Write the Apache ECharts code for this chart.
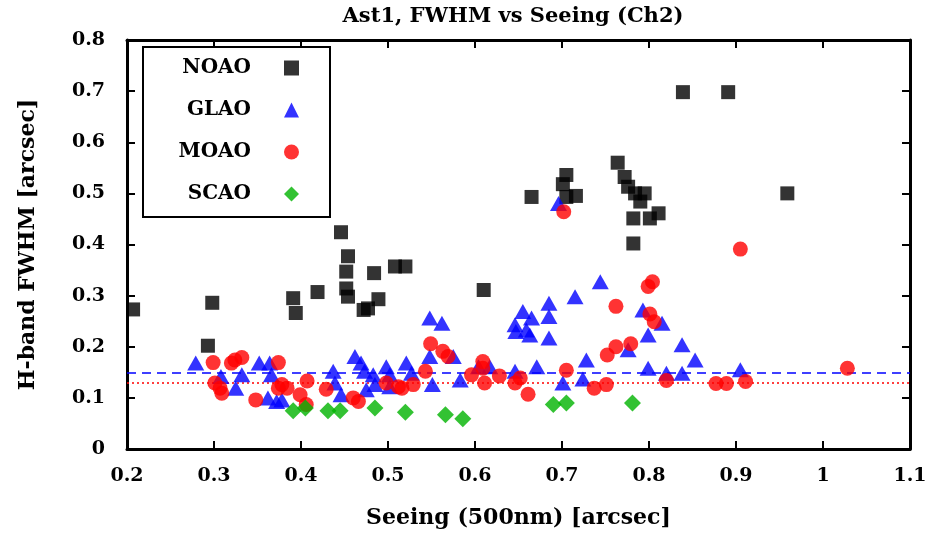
<!DOCTYPE html>
<html><head><meta charset="utf-8">
<script src="https://cdn.jsdelivr.net/npm/echarts@6/dist/echarts.min.js"></script>
<style>html,body{margin:0;padding:0;background:#fff}#c{width:948px;height:535px}</style>
</head><body><div id="c"></div>
<script>
const seriesNames = ['NOAO', 'GLAO', 'MOAO', 'SCAO'];
const noao = [[0.207,0.273],[0.298,0.286],[0.293,0.202],[0.391,0.295],[0.394,0.266],[0.419,0.307],[0.446,0.424],[0.454,0.377],[0.452,0.347],[0.452,0.314],[0.454,0.298],[0.484,0.344],[0.472,0.272],[0.477,0.275],[0.489,0.293],[0.508,0.357],[0.520,0.357],[0.610,0.311],[0.665,0.493],[0.701,0.518],[0.705,0.536],[0.705,0.493],[0.716,0.495],[0.764,0.560],[0.772,0.532],[0.776,0.513],[0.784,0.500],[0.795,0.500],[0.790,0.484],[0.782,0.451],[0.801,0.451],[0.811,0.461],[0.782,0.402],[0.839,0.698],[0.891,0.698],[0.959,0.500]];
const glao = [[0.279,0.168],[0.308,0.142],[0.325,0.119],[0.332,0.145],[0.352,0.168],[0.364,0.168],[0.366,0.145],[0.362,0.100],[0.372,0.093],[0.378,0.096],[0.437,0.152],[0.439,0.129],[0.446,0.106],[0.462,0.181],[0.469,0.168],[0.473,0.152],[0.483,0.145],[0.485,0.126],[0.475,0.116],[0.498,0.161],[0.502,0.122],[0.502,0.145],[0.521,0.168],[0.527,0.148],[0.548,0.256],[0.562,0.246],[0.548,0.181],[0.575,0.181],[0.551,0.126],[0.583,0.135],[0.604,0.161],[0.617,0.161],[0.646,0.243],[0.647,0.230],[0.655,0.269],[0.665,0.256],[0.659,0.233],[0.663,0.223],[0.685,0.285],[0.685,0.259],[0.685,0.217],[0.646,0.152],[0.671,0.161],[0.701,0.129],[0.715,0.298],[0.728,0.174],[0.724,0.137],[0.744,0.327],[0.696,0.480],[0.776,0.194],[0.793,0.272],[0.815,0.246],[0.799,0.223],[0.799,0.158],[0.820,0.148],[0.838,0.204],[0.853,0.174],[0.838,0.148],[0.905,0.155]];
const moao = [[0.299,0.169],[0.301,0.129],[0.307,0.119],[0.309,0.109],[0.320,0.168],[0.324,0.174],[0.332,0.179],[0.348,0.096],[0.374,0.169],[0.378,0.126],[0.374,0.119],[0.384,0.119],[0.399,0.106],[0.406,0.087],[0.407,0.133],[0.429,0.117],[0.460,0.100],[0.466,0.093],[0.498,0.129],[0.512,0.122],[0.516,0.119],[0.529,0.126],[0.543,0.152],[0.549,0.206],[0.563,0.191],[0.569,0.181],[0.596,0.145],[0.609,0.171],[0.609,0.158],[0.611,0.129],[0.628,0.143],[0.646,0.129],[0.652,0.139],[0.661,0.107],[0.705,0.154],[0.737,0.119],[0.751,0.126],[0.752,0.184],[0.762,0.200],[0.779,0.206],[0.762,0.279],[0.702,0.464],[0.799,0.318],[0.804,0.327],[0.801,0.264],[0.806,0.249],[0.905,0.391],[0.820,0.134],[0.877,0.128],[0.889,0.128],[0.911,0.132],[1.028,0.158]];
const scao = [[0.391,0.075],[0.405,0.080],[0.431,0.075],[0.445,0.075],[0.485,0.080],[0.520,0.072],[0.566,0.067],[0.586,0.059],[0.690,0.087],[0.705,0.090],[0.781,0.090]];
const glaoMean = 0.155;
const moaoMean = 0.133;

const FONT = 'DejaVu Serif';
const chart = echarts.init(document.getElementById('c'), null, {renderer: 'canvas'});
const axisBase = {
  type: 'value',
  axisLine: {show: true, onZero: false, lineStyle: {color: '#000', width: 3}},
  axisTick: {show: true, inside: true, length: 8, lineStyle: {color: '#000', width: 2}},
  splitLine: {show: false},
};
chart.setOption({
  animation: false,
  backgroundColor: '#fff',
  title: {
    text: 'Ast1, FWHM vs Seeing (Ch2)',
    left: 508, top: 1, textAlign: 'center',
    textStyle: {fontFamily: FONT, fontWeight: 'bold', fontSize: 21, color: '#000'}
  },
  grid: {left: 127, right: 38, top: 40, bottom: 86, containLabel: false},
  legend: {
    orient: 'vertical', left: 143, top: 47, align: 'right',
    backgroundColor: '#fff', borderColor: '#000', borderWidth: 2, borderRadius: 0,
    padding: [11, 31, 13, 8], itemGap: 22, itemWidth: 15, itemHeight: 15,
    data: [
      {name: 'NOAO', icon: 'rect'},
      {name: 'GLAO', icon: 'triangle'},
      {name: 'MOAO', icon: 'circle'},
      {name: 'SCAO', icon: 'diamond'}
    ],
    formatter: n => '{a|' + n + '}',
    textStyle: {
      color: '#000',
      rich: {a: {fontFamily: FONT, fontWeight: 'bold', fontSize: 20, color: '#000', width: 100, align: 'right', padding: [0, 28, 0, 0], lineHeight: 20}}
    }
  },
  xAxis: [
    Object.assign({}, axisBase, {
      min: 0.2, max: 1.1, interval: 0.1, position: 'bottom',
      name: 'Seeing (500nm) [arcsec]', nameLocation: 'middle', nameGap: 58,
      nameTextStyle: {fontFamily: FONT, fontWeight: 'bold', fontSize: 22, color: '#000'},
      axisLabel: {fontFamily: FONT, fontWeight: 'bold', fontSize: 19, color: '#000', margin: 18, showMinLabel: true, showMaxLabel: true}
    }),
    Object.assign({}, axisBase, {
      min: 0.2, max: 1.1, interval: 0.1, position: 'top', axisLabel: {show: false}
    })
  ],
  yAxis: [
    Object.assign({}, axisBase, {
      min: 0, max: 0.8, interval: 0.1, position: 'left',
      name: 'H-band FWHM [arcsec]', nameLocation: 'middle', nameGap: 88, nameRotate: 90,
      nameTextStyle: {fontFamily: FONT, fontWeight: 'bold', fontSize: 22, color: '#000'},
      axisLabel: {fontFamily: FONT, fontWeight: 'bold', fontSize: 19, color: '#000', margin: 22, showMinLabel: true, showMaxLabel: true}
    }),
    Object.assign({}, axisBase, {
      min: 0, max: 0.8, interval: 0.1, position: 'right', axisLabel: {show: false}
    })
  ],
  series: [
    {
      name: 'NOAO', type: 'scatter', symbol: 'rect', symbolSize: 14, data: noao,
      itemStyle: {color: '#000000'}, z: 3,
      markLine: {
        silent: true, symbol: ['none', 'none'], label: {show: false}, z: 1,
        data: [
          {yAxis: glaoMean, lineStyle: {color: '#0000ff', type: [9, 6], width: 1.5}},
          {yAxis: moaoMean, lineStyle: {color: '#ff0000', type: [2, 3], width: 1.5}}
        ]
      }
    },
    {name: 'GLAO', type: 'scatter', symbol: 'triangle', symbolSize: [17, 15], data: glao, itemStyle: {color: '#0000ff'}, z: 4},
    {name: 'MOAO', type: 'scatter', symbol: 'circle', symbolSize: 15, data: moao, itemStyle: {color: '#ff0000'}, z: 5},
    {name: 'SCAO', type: 'scatter', symbol: 'diamond', symbolSize: 17, data: scao, itemStyle: {color: '#00b300'}, z: 6}
  ]
});
</script>
</body></html>
